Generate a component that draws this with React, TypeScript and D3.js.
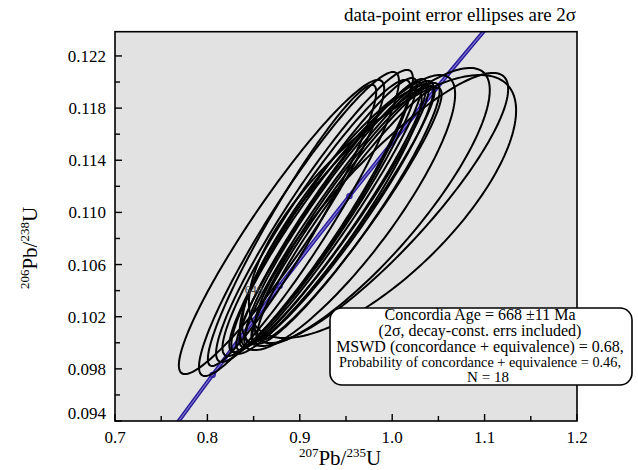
import React from "react";
import * as d3 from "d3";

// axis ticks
const xTicks = [0.7, 0.8, 0.9, 1.0, 1.1, 1.2];
const xMinor = [0.75, 0.85, 0.95, 1.05, 1.15];
const yTicks = [0.094, 0.098, 0.102, 0.106, 0.11, 0.114, 0.118, 0.122];
const yMinor = [0.096, 0.1, 0.104, 0.108, 0.112, 0.116, 0.12];

// concordia curve (Ma, 207Pb/235U, 206Pb/238U)
const concAge = [575, 600, 620, 640, 660, 680, 700, 720, 740, 760];
const concX = [0.7617, 0.8057, 0.8416, 0.8782, 0.9155, 0.9537, 0.9925, 1.0322, 1.0726, 1.1138];
const concY = [0.0933, 0.09754, 0.10095, 0.10438, 0.10781, 0.11125, 0.1147, 0.11817, 0.12164, 0.12513];
const markAges = [600, 640, 680, 720];
const labelAges = [640];

// data-point error ellipses (2 sigma)
const ellX = [0.8802, 0.8991, 0.8916, 0.9159, 0.9181, 0.9251, 0.9316, 0.9359, 0.9397, 0.943, 0.9468, 0.95, 0.9538, 0.9289, 0.9516, 0.9716, 0.9884, 0.9895];
const ellY = [0.10888, 0.10911, 0.109, 0.10973, 0.10957, 0.1098, 0.10973, 0.10996, 0.10984, 0.11003, 0.10992, 0.10992, 0.10988, 0.10927, 0.10999, 0.11042, 0.11034, 0.11045];
const ellSx = [0.1111, 0.1082, 0.0911, 0.1065, 0.1018, 0.1014, 0.1003, 0.1014, 0.0998, 0.1018, 0.0992, 0.1013, 0.0997, 0.103, 0.1165, 0.134, 0.1371, 0.1446];
const ellSy = [0.01128, 0.01166, 0.01078, 0.0112, 0.01059, 0.01051, 0.01028, 0.01028, 0.01001, 0.01005, 0.00978, 0.01001, 0.00967, 0.01013, 0.01055, 0.01066, 0.01036, 0.01009];
const ellRho = [0.94, 0.94, 0.95, 0.94, 0.94, 0.95, 0.96, 0.95, 0.96, 0.94, 0.96, 0.94, 0.95, 0.93, 0.86, 0.84, 0.88, 0.73];

const title = "data-point error ellipses are 2σ";
const boxLines = [
  "Concordia Age = 668 ±11 Ma",
  "(2σ, decay-const. errs included)",
  "MSWD (concordance + equivalence) = 0.68,",
  "Probability of concordance + equivalence = 0.46,",
  "N = 18",
];

const W = 638;
const H = 470;
const left = 115;
const right = 577;
const top = 31.7;
const bottom = 421;
const serif = "'Liberation Serif', 'Times New Roman', serif";

export default function App() {
  const x = d3.scaleLinear().domain([0.7, 1.2]).range([left, right]);
  const y = d3.scaleLinear().domain([0.094, 0.12386]).range([bottom, top]);

  const concLine = d3
    .line<number>()
    .x((d, i) => x(concX[i]))
    .y((d, i) => y(concY[i]))
    .curve(d3.curveCatmullRom);

  const steps = d3.range(0, 2 * Math.PI, Math.PI / 90);
  const ellLine = d3
    .line<[number, number]>()
    .x((d) => x(d[0]))
    .y((d) => y(d[1]))
    .curve(d3.curveLinearClosed);

  const ellipses = ellX.map((cx, i) => {
    const k = Math.sqrt(1 - ellRho[i] * ellRho[i]);
    const pts = steps.map((t) => [
      cx + ellSx[i] * Math.cos(t),
      ellY[i] + ellSy[i] * (ellRho[i] * Math.cos(t) + k * Math.sin(t)),
    ]) as [number, number][];
    return ellLine(pts);
  });

  const concPath = concLine(concAge) || "";
  const boxY = [320, 336, 352, 367, 382];

  return (
    <svg width={W} height={H} style={{ position: "absolute", left: 0, top: 0, background: "#fff" }}>
      <defs>
        <clipPath id="plot">
          <rect x={left} y={top} width={right - left} height={bottom - top} />
        </clipPath>
      </defs>
      <rect x={left} y={top} width={right - left} height={bottom - top} fill="#e1e2e1" />

      <g clipPath="url(#plot)">
        <path d={concPath} fill="none" stroke="#2a1c9c" strokeWidth={4} />
        <path d={concPath} fill="none" stroke="#7d74cc" strokeWidth={1.1} />
        {markAges.map((a) => {
          const i = concAge.indexOf(a);
          return (
            <circle key={a} cx={x(concX[i])} cy={y(concY[i])} r={2.6} fill="none" stroke="#2a1c9c" strokeWidth={1.2} />
          );
        })}
        {ellipses.map((d, i) => (
          <path key={i} d={d || ""} fill="none" stroke="#000" strokeWidth={2} />
        ))}
        {labelAges.map((a) => {
          const i = concAge.indexOf(a);
          return (
            <text key={a} x={x(concX[i]) - 17} y={y(concY[i]) + 8} textAnchor="end" fontFamily={serif} fontSize={12} fill="#444">
              {a}
            </text>
          );
        })}
      </g>

      <rect x={left} y={top} width={right - left} height={bottom - top} fill="none" stroke="#000" strokeWidth={1.6} />

      {xTicks.map((t) => (
        <g key={t}>
          <line x1={x(t)} x2={x(t)} y1={bottom} y2={bottom - 7} stroke="#000" strokeWidth={1.4} />
          <text x={x(t)} y={443} textAnchor="middle" fontFamily={serif} fontSize={17}>
            {t.toFixed(1)}
          </text>
        </g>
      ))}
      {xMinor.map((t) => (
        <line key={t} x1={x(t)} x2={x(t)} y1={bottom} y2={bottom - 5} stroke="#000" strokeWidth={1.4} />
      ))}
      {yTicks.map((t) => (
        <g key={t}>
          <line x1={left} x2={left + 7} y1={y(t)} y2={y(t)} stroke="#000" strokeWidth={1.4} />
          <text x={106} y={t === 0.094 ? y(t) - 2 : y(t) + 6} textAnchor="end" fontFamily={serif} fontSize={17}>
            {t.toFixed(3)}
          </text>
        </g>
      ))}
      {yMinor.map((t) => (
        <line key={t} x1={left} x2={left + 5} y1={y(t)} y2={y(t)} stroke="#000" strokeWidth={1.4} />
      ))}

      <text x={576} y={21} textAnchor="end" fontFamily={serif} fontSize={18} textLength={232} lengthAdjust="spacingAndGlyphs">
        {title}
      </text>

      <text x={340} y={465} textAnchor="middle" fontFamily={serif} fontSize={21}>
        <tspan fontSize={13} dy={-8}>207</tspan>
        <tspan dy={8}>Pb/</tspan>
        <tspan fontSize={13} dy={-8}>235</tspan>
        <tspan dy={8}>U</tspan>
      </text>
      <text transform="translate(37,248) rotate(-90)" textAnchor="middle" fontFamily={serif} fontSize={21}>
        <tspan fontSize={13} dy={-8}>206</tspan>
        <tspan dy={8}>Pb/</tspan>
        <tspan fontSize={13} dy={-8}>238</tspan>
        <tspan dy={8}>U</tspan>
      </text>

      <rect x={330} y={308} width={302} height={77} rx={12} fill="#fff" stroke="#000" strokeWidth={1.6} />
      {boxLines.map((s, i) => (
        <text
          key={i}
          x={i === 4 ? 488 : 480}
          y={boxY[i]}
          textAnchor="middle"
          fontFamily={serif}
          fontSize={i === 3 ? 14 : i === 4 ? 15 : 16}
          textLength={i === 3 ? 282 : undefined}
          lengthAdjust="spacingAndGlyphs"
        >
          {s}
        </text>
      ))}
    </svg>
  );
}
